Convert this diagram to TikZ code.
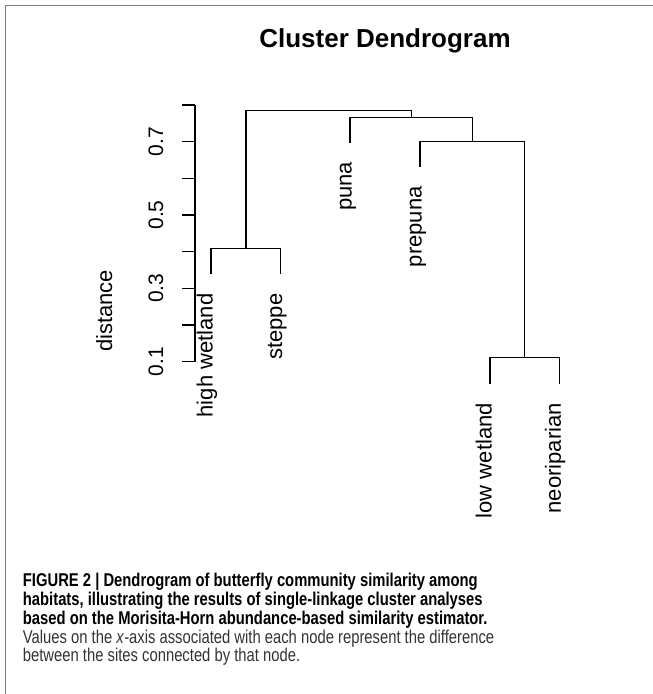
\documentclass[tikz,border=0pt]{standalone}
\usepackage{fontspec}
\setmainfont{Liberation Sans}
\newfontfamily\plotfont{Liberation Sans}
\newfontfamily\capfont[FakeStretch=0.8]{Liberation Sans}
\begin{document}
\begin{tikzpicture}[x=1pt,y=-1pt,
  dline/.style={line width=1.3pt, black},
  leaflab/.style={rotate=90, anchor=base east, inner sep=0pt, font=\plotfont\fontsize{22}{26}\selectfont},
  ticklab/.style={rotate=90, anchor=base, inner sep=0pt, font=\plotfont\fontsize{21}{26}\selectfont},
  caplab/.style={anchor=base west, inner sep=0pt, font=\capfont\fontsize{18.5}{18.75}\selectfont},
  capbold/.style={caplab, font=\capfont\bfseries\fontsize{18.5}{18.75}\selectfont, text=black},
  capreg/.style={caplab, text=black!80},
  framel/.style={line width=1.4pt, black!50}]
\useasboundingbox (0,0) rectangle (653,694);
% frame
\coordinate (fbl) at (5.6,694);
\coordinate (ftl) at (5.6,5.6);
\coordinate (ftr) at (653,5.6);
\draw[framel] (fbl) -- (ftl) -- (ftr);
% title
\node[anchor=base, inner sep=0pt, font=\plotfont\bfseries\fontsize{26}{30}\selectfont] (title) at (385,47) {Cluster Dendrogram};
% leaves and merges
\coordinate (hw) at (211,274);
\coordinate (st) at (280.7,274);
\coordinate (pu) at (350,142.7);
\coordinate (pp) at (420,166.7);
\coordinate (lw) at (490,384);
\coordinate (np) at (559.3,384);
\coordinate (m1) at (245.85,248.3);
\coordinate (m2) at (524.65,357.7);
\coordinate (m3) at (472.5,141.7);
\coordinate (m4) at (411.25,117.3);
\coordinate (m5) at (328.5,110.7);
\draw[dline] (hw) |- (m1) -| (st);
\draw[dline] (lw) |- (m2) -| (np);
\draw[dline] (pp) |- (m3) -| (m2);
\draw[dline] (pu) |- (m4) -| (m3);
\draw[dline] (m1) |- (m5) -| (m4);
% leaf labels
\node[leaflab] (hwl) at ([shift={(1.5,19.5)}]hw) {high wetland};
\node[leaflab] (stl) at ([shift={(1.5,19.5)}]st) {steppe};
\node[leaflab] (pul) at ([shift={(1.5,19)}]pu) {puna};
\node[leaflab] (ppl) at ([shift={(1.5,19.5)}]pp) {prepuna};
\node[leaflab] (lwl) at ([shift={(1.5,19)}]lw) {low wetland};
\node[leaflab] (npl) at ([shift={(1.5,19)}]np) {neoriparian};
% axis
\coordinate (atop) at (195,105);
\coordinate (abot) at (195,361.7);
\draw[dline] (atop) -- (abot);
\foreach \i in {0,...,7} \draw[dline] (195,{361.7-36.67*\i}) -- ++(-13,0);
\foreach \i/\t in {0/0.1,2/0.3,4/0.5,6/0.7}
  \node[ticklab] (t\i) at (163,{361.7-36.67*\i}) {\t};
\node[ticklab, font=\plotfont\fontsize{22}{26}\selectfont] (ylab) at (112,311) {distance};
% caption
\node[capbold] (cap1) at (22.7,586.7) {FIGURE 2 | Dendrogram of butterfly community similarity among};
\node[capbold] (cap2) at (22.7,605.7) {habitats, illustrating the results of single-linkage cluster analyses};
\node[capbold] (cap3) at (22.7,624.5) {based on the Morisita-Horn abundance-based similarity estimator.};
\node[capreg] (cap4) at (22.7,643.2) {Values on the \textit{x}-axis associated with each node represent the difference};
\node[capreg] (cap5) at (22.7,661.9) {between the sites connected by that node.};
\end{tikzpicture}
\end{document}
